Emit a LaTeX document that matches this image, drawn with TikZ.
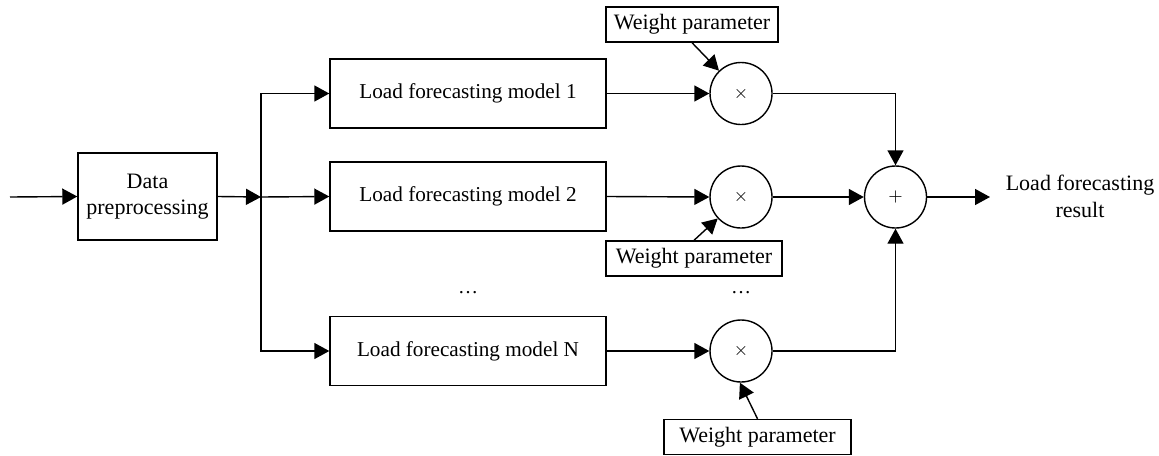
\documentclass[tikz,border=0pt]{standalone}
\usepackage{fontspec}
\setmainfont{Liberation Serif}
\usetikzlibrary{arrows.meta}
\tikzset{
  wire/.style={line width=0.7pt},
  flow/.style={wire,-{Triangle[length=7.5pt,width=8pt]}},
  block/.style={draw,line width=0.7pt,rectangle,inner sep=0pt,align=center,font=\fontsize{11}{13}\selectfont},
  model/.style={block,minimum width=138pt,minimum height=34.5pt,font=\fontsize{10.6}{13}\selectfont},
  wbox/.style={block,minimum height=17.5pt,font=\fontsize{11}{13}\selectfont},
  op/.style={draw,line width=0.7pt,circle,minimum size=31pt,inner sep=0pt,font=\fontsize{9}{10}\selectfont},
}
\begin{document}
\begin{tikzpicture}[x=0.5pt,y=-0.5pt]
  \useasboundingbox (0,0) rectangle (1159,455);
  % input stage
  \coordinate (in) at (10,197);
  \node[block,minimum width=69.5pt,minimum height=43.5pt] (dp) at (147.5,196.5) {Data\\preprocessing};
  \coordinate (split) at (261,197);
  % forecasting models
  \node[model] (m1) at (468,93.5) {Load forecasting model 1};
  \node[model] (m2) at (468,196.5) {Load forecasting model 2};
  \node[model] (mN) at (468,351) {Load forecasting model N};
  \node (d1) at (468,293) {\dots};
  % weighting
  \node[op] (c1) at (741,93.5) {$\times$};
  \node[op] (c2) at (741,197) {$\times$};
  \node[op] (cN) at (741,351) {$\times$};
  \node (d2) at (741,293) {\dots};
  \node[wbox,minimum width=86pt] (w1) at (692,24.5) {Weight parameter};
  \node[wbox,minimum width=88pt] (w2) at (694,258.5) {Weight parameter};
  \node[wbox,minimum width=93.5pt] (w3) at (757.5,437) {Weight parameter};
  % summation and output
  \node[op] (sum) at (895.5,197) {$+$};
  \coordinate (out) at (990,197);
  \node[align=center,font=\fontsize{11}{13.5}\selectfont] (res) at (1080,196) {Load forecasting\\result};
  % connectors
  \draw[flow] (in) -- (dp.west);
  \draw[flow] (dp.east) -- (split);
  \draw[flow] (split) |- (m1.west);
  \draw[flow] (split) -- (m2.west);
  \draw[flow] (split) |- (mN.west);
  \draw[flow] (m1.east) -- (c1.west);
  \draw[flow] (m2.east) -- (c2.west);
  \draw[flow] (mN.east) -- (cN.west);
  \draw[flow] (w1.south) -- (c1);
  \draw[flow] (w2.north) -- (c2);
  \draw[flow] (w3.north) -- (cN.-92);
  \draw[flow] (c1.east) -| (sum.north);
  \draw[flow] (c2.east) -- (sum.west);
  \draw[flow] (cN.east) -| (sum.south);
  \draw[flow] (sum.east) -- (out);
\end{tikzpicture}
\end{document}
